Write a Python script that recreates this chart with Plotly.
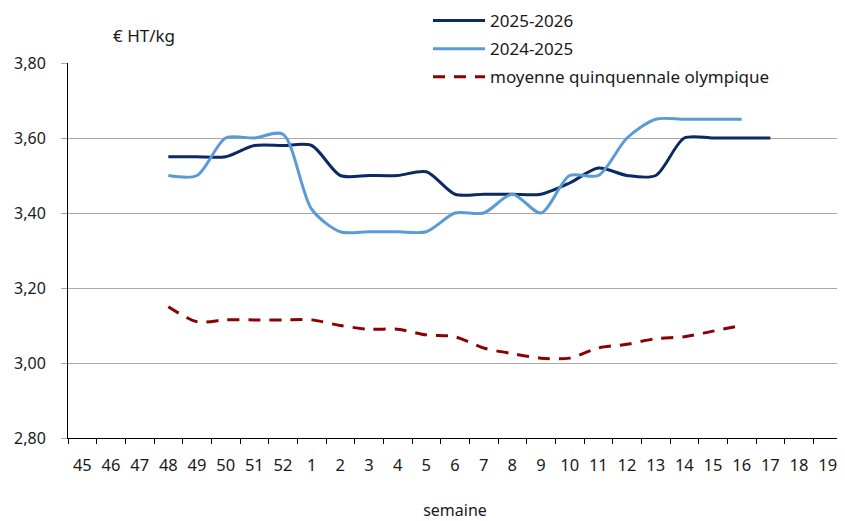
import plotly.graph_objects as go

weeks = ["45", "46", "47", "48", "49", "50", "51", "52", "1", "2", "3", "4", "5", "6",
         "7", "8", "9", "10", "11", "12", "13", "14", "15", "16", "17", "18", "19"]

weeks_2025_2026 = ["48", "49", "50", "51", "52", "1", "2", "3", "4", "5", "6", "7", "8",
                   "9", "10", "11", "12", "13", "14", "15", "16", "17"]
price_2025_2026 = [3.55, 3.55, 3.55, 3.58, 3.58, 3.58, 3.50, 3.50, 3.50, 3.51, 3.45, 3.45, 3.45,
                   3.45, 3.48, 3.52, 3.50, 3.50, 3.60, 3.60, 3.60, 3.60]

weeks_2024_2025 = ["48", "49", "50", "51", "52", "1", "2", "3", "4", "5", "6", "7", "8",
                   "9", "10", "11", "12", "13", "14", "15", "16"]
price_2024_2025 = [3.50, 3.50, 3.60, 3.60, 3.61, 3.41, 3.35, 3.35, 3.35, 3.35, 3.40, 3.40, 3.45,
                   3.40, 3.50, 3.50, 3.60, 3.65, 3.65, 3.65, 3.65]

weeks_moyenne = ["48", "49", "50", "51", "52", "1", "2", "3", "4", "5", "6", "7", "8",
                 "9", "10", "11", "12", "13", "14", "15", "16"]
price_moyenne = [3.15, 3.11, 3.115, 3.115, 3.115, 3.115, 3.10, 3.09, 3.09, 3.075, 3.07, 3.04, 3.025,
                 3.013, 3.013, 3.04, 3.05, 3.065, 3.07, 3.085, 3.10]

FONT = "Noto Sans"
TXT = "#1a1a1a"

# the page body has an 8px margin: size the figure so it fills the 845x521 window
W, H = 837, 513
ML, MR, MT, MB = 60, 3, 55, 83
PW = W - ML - MR
PH = H - MT - MB

fig = go.Figure()
fig.add_trace(go.Scatter(x=weeks_2025_2026, y=price_2025_2026, mode="lines", name="2025-2026",
                         legendgroup="a",
                         line=dict(color="#0b2a63", width=3, shape="spline", smoothing=0.8)))
fig.add_trace(go.Scatter(x=weeks_2024_2025, y=price_2024_2025, mode="lines", name="2024-2025",
                         legendgroup="b",
                         line=dict(color="#5b9bd5", width=3, shape="spline", smoothing=0.8)))
fig.add_trace(go.Scatter(x=weeks_moyenne, y=price_moyenne, mode="lines",
                         name="moyenne quinquennale olympique", legendgroup="c",
                         line=dict(color="#8b0000", width=3, shape="spline", smoothing=0.8,
                                   dash="12px,9px")))

fig.update_layout(
    width=W, height=H,
    margin=dict(l=ML, r=MR, t=MT, b=MB, autoexpand=False),
    paper_bgcolor="white", plot_bgcolor="white",
    separators=", ",
    font=dict(family=FONT, size=15, color=TXT),
    showlegend=True,
    legend=dict(x=(428 - 68) / PW, xanchor="left", y=1 + (55 + 5) / PH, yanchor="top",
                bgcolor="white", font=dict(family=FONT, size=17, color=TXT),
                tracegroupgap=3, itemwidth=52),
    xaxis=dict(type="category", categoryorder="array", categoryarray=weeks,
               range=[-0.5, len(weeks) - 0.5], automargin=False,
               showline=True, linecolor="black", linewidth=1,
               ticks="outside", ticklen=5, tickcolor="black", tickson="boundaries",
               showgrid=False, ticklabelstandoff=12,
               tickfont=dict(family=FONT, size=16.5, color=TXT),
               title=dict(text="semaine", font=dict(family=FONT, size=16, color=TXT),
                          standoff=37)),
    yaxis=dict(range=[2.8, 3.8], dtick=0.2, tick0=2.8, tickformat=".2f", automargin=False,
               showline=True, linecolor="black", linewidth=1,
               showgrid=True, gridcolor="#a8a8a8", gridwidth=1,
               ticks="outside", ticklen=6, tickcolor="#a8a8a8",
               ticklabelstandoff=12, zeroline=False,
               tickfont=dict(family=FONT, size=16, color=TXT)),
    annotations=[dict(text="€ HT/kg", xref="paper", yref="paper", x=(111 - 68) / PW,
                      y=1 + (63 - 35) / PH, xanchor="left", yanchor="middle",
                      showarrow=False, font=dict(family=FONT, size=17, color=TXT))],
)

fig.write_html("out.html")
